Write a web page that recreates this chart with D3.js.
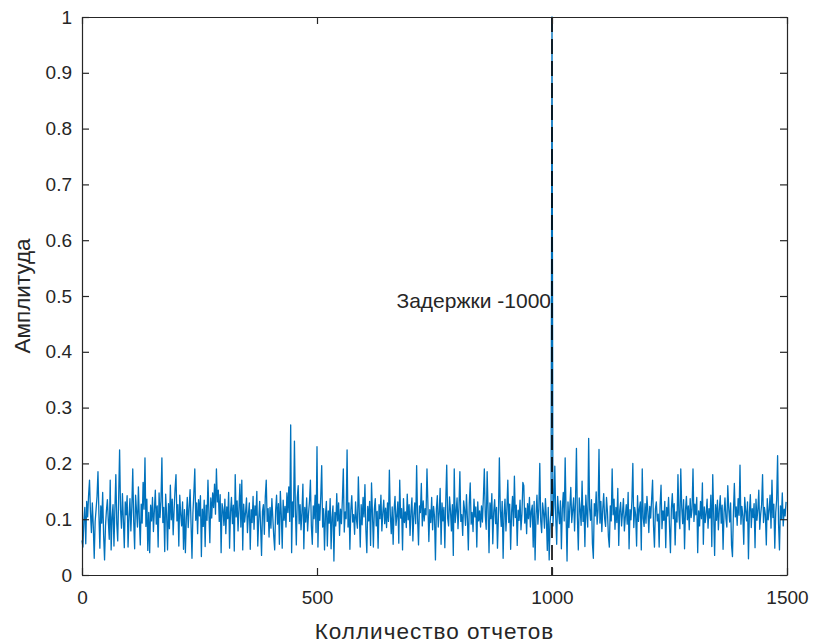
<!DOCTYPE html>
<html>
<head>
<meta charset="utf-8">
<script src="https://cdn.jsdelivr.net/npm/d3@7"></script>
<style>
  html, body { margin: 0; background: #fff; }
  svg { display: block; }
  text { font-family: "Liberation Sans", Arial, Helvetica, sans-serif; fill: #262626; }
</style>
</head>
<body>
<svg id="chart" width="815" height="644"></svg>
<script>
// Axis ticks and labels
const xTicks = [0, 500, 1000, 1500];
const yTicks = [0, 0.1, 0.2, 0.3, 0.4, 0.5, 0.6, 0.7, 0.8, 0.9, 1];
const yTickLabels = ["0", "0.1", "0.2", "0.3", "0.4", "0.5", "0.6", "0.7", "0.8", "0.9", "1"];
const xTitle = "Колличество отчетов";
const yTitle = "Амплитуда";

// Delay marker
const delaySample = 1000;
const delayLabel = "Задержки -1000";
const delayLabelLevel = 0.5;

// Correlation amplitude, one value every 2 samples, in thousandths
const sampleStep = 2;
const amplitudeMilli = [
  62, 50, 98, 121, 56, 132, 104, 143, 170, 112, 76, 129, 88, 30, 96, 118, 141, 185, 109, 48, 124, 93, 148, 71, 27,
  88, 116, 135, 97, 64, 170, 45, 103, 126, 52, 119, 180, 92, 61, 138, 224, 117, 84, 146, 99, 49, 131, 108, 142, 50,
  104, 137, 79, 122, 190, 96, 47, 143, 115, 86, 158, 101, 54, 127, 93, 166, 118, 210, 87, 136, 44, 112, 40, 125, 97,
  139, 78, 116, 152, 91, 124, 50, 147, 103, 132, 210, 94, 121, 42, 145, 109, 45, 128, 83, 161, 99, 136, 72, 118, 154,
  180, 97, 126, 52, 143, 108, 88, 131, 46, 117, 40, 102, 139, 85, 121, 153, 92, 30, 111, 147, 190, 98, 129, 74, 135,
  106, 142, 33, 118, 87, 134, 51, 125, 98, 170, 112, 58, 138, 102, 147, 121, 163, 109, 190, 131, 152, 96, 144, 40, 128,
  117, 89, 136, 74, 122, 101, 148, 48, 113, 139, 92, 125, 43, 180, 104, 133, 79, 119, 163, 86, 170, 45, 127, 95, 112,
  138, 76, 108, 129, 46, 117, 94, 141, 82, 124, 107, 150, 52, 99, 132, 88, 35, 114, 126, 73, 140, 170, 96, 119, 68,
  121, 84, 137, 102, 69, 45, 116, 143, 91, 128, 55, 150, 109, 48, 134, 98, 123, 86, 147, 112, 158, 96, 269, 40, 131,
  104, 240, 118, 54, 139, 160, 92, 126, 81, 113, 163, 47, 121, 95, 138, 79, 110, 132, 170, 88, 55, 124, 101, 143, 76,
  230, 50, 127, 98, 141, 196, 86, 119, 45, 108, 132, 52, 115, 93, 137, 47, 103, 124, 25, 112, 88, 146, 97, 129, 71,
  118, 92, 135, 190, 77, 113, 101, 224, 86, 129, 46, 117, 142, 95, 108, 73, 131, 99, 84, 176, 112, 50, 126, 90, 139,
  104, 162, 81, 40, 123, 97, 132, 53, 165, 109, 50, 118, 137, 88, 114, 48, 126, 101, 143, 79, 111, 134, 92, 120, 85,
  129, 96, 188, 108, 74, 122, 55, 117, 141, 89, 106, 131, 57, 170, 102, 119, 45, 137, 94, 113, 85, 145, 99, 126, 71,
  115, 138, 61, 107, 129, 92, 196, 101, 54, 124, 112, 164, 88, 133, 97, 119, 108, 190, 126, 60, 117, 94, 139, 81, 123,
  105, 27, 118, 142, 86, 111, 155, 55, 129, 97, 121, 49, 134, 197, 102, 88, 140, 115, 79, 126, 35, 190, 94, 113, 138,
  83, 121, 185, 96, 108, 71, 133, 117, 89, 144, 102, 45, 127, 165, 91, 112, 78, 136, 104, 122, 50, 131, 97, 115, 86,
  124, 95, 139, 190, 107, 82, 185, 118, 40, 129, 101, 146, 56, 113, 135, 92, 121, 48, 104, 210, 117, 87, 132, 30, 109,
  136, 79, 118, 170, 94, 127, 46, 112, 141, 88, 177, 103, 125, 53, 116, 98, 134, 81, 109, 166, 160, 93, 120, 74, 128,
  101, 139, 86, 114, 125, 50, 132, 27, 108, 143, 91, 118, 200, 97, 76, 129, 112, 84, 137, 103, 44, 121, 27, 94, 117,
  1000, 88, 126, 195, 102, 55, 141, 113, 92, 133, 47, 119, 148, 97, 210, 108, 25, 131, 85, 122, 157, 94, 116, 138, 79,
  131, 227, 104, 45, 138, 117, 89, 168, 96, 124, 51, 143, 110, 86, 245, 119, 98, 135, 56, 30, 128, 106, 149, 91, 117,
  225, 93, 132, 78, 118, 146, 101, 87, 139, 113, 69, 50, 124, 97, 190, 108, 136, 82, 121, 94, 155, 53, 115, 130, 88,
  112, 137, 79, 104, 126, 91, 148, 47, 117, 99, 133, 200, 85, 121, 108, 52, 142, 96, 119, 131, 45, 190, 102, 87, 128,
  93, 141, 114, 76, 123, 102, 136, 170, 88, 50, 118, 131, 97, 109, 50, 126, 161, 83, 115, 98, 132, 49, 121, 106, 139,
  87, 40, 119, 146, 101, 128, 54, 113, 95, 180, 107, 83, 190, 121, 92, 135, 47, 116, 141, 99, 124, 81, 137, 103, 118,
  190, 96, 127, 108, 139, 40, 115, 88, 132, 101, 165, 55, 122, 94, 111, 136, 84, 119, 102, 143, 51, 180, 109, 35, 126,
  98, 134, 81, 117, 142, 93, 125, 46, 111, 138, 102, 86, 160, 119, 95, 129, 53, 33, 113, 164, 104, 122, 89, 137, 107,
  197, 91, 123, 106, 55, 139, 115, 97, 131, 29, 112, 144, 85, 119, 103, 128, 49, 136, 98, 117, 152, 82, 109, 126, 180,
  94, 121, 108, 54, 137, 99, 116, 143, 84, 170, 103, 127, 48, 112, 135, 214, 92, 45, 124, 101, 147, 88, 118, 106, 131
];

const series = amplitudeMilli.map((v, i) => ({ sample: i * sampleStep, amplitude: v / 1000 }));

const svg = d3.select("#chart");
const plot = { left: 82, right: 787, top: 17, bottom: 575 };

const x = d3.scaleLinear().domain([0, 1500]).range([plot.left, plot.right]);
const y = d3.scaleLinear().domain([0, 1]).range([plot.bottom, plot.top]);

// Signal
svg.append("path")
  .datum(series)
  .attr("fill", "none")
  .attr("stroke", "#0072BD")
  .attr("stroke-width", 1.3)
  .attr("stroke-linejoin", "round")
  .attr("d", d3.line().x(d => x(d.sample)).y(d => y(d.amplitude)));

// Delay marker line
svg.append("line")
  .attr("x1", x(delaySample)).attr("x2", x(delaySample))
  .attr("y1", y(1)).attr("y2", y(0))
  .attr("stroke", "#000")
  .attr("stroke-width", 1.6)
  .attr("stroke-dasharray", "15,7");

svg.append("text")
  .attr("x", x(delaySample) - 1)
  .attr("y", y(delayLabelLevel) + 12)
  .attr("text-anchor", "end")
  .attr("font-size", 21)
  .text(delayLabel);

// Axes: box with inward ticks on all four sides
const tickLen = 7;
const axisStyle = g => {
  g.select(".domain").attr("stroke", "#262626").attr("stroke-width", 1.2);
  g.selectAll(".tick line").attr("stroke", "#262626").attr("stroke-width", 1.2);
  g.selectAll(".tick text").attr("fill", "#262626").attr("font-size", 19)
    .attr("font-family", '"Liberation Sans", Arial, Helvetica, sans-serif');
};

svg.append("g")
  .attr("transform", `translate(0,${plot.bottom})`)
  .call(d3.axisBottom(x).tickValues(xTicks).tickFormat(d3.format("d"))
    .tickSizeInner(-tickLen).tickSizeOuter(0).tickPadding(16))
  .call(axisStyle);

svg.append("g")
  .attr("transform", `translate(0,${plot.top})`)
  .call(d3.axisTop(x).tickValues(xTicks).tickFormat("")
    .tickSizeInner(-tickLen).tickSizeOuter(0))
  .call(axisStyle);

svg.append("g")
  .attr("transform", `translate(${plot.left},0)`)
  .call(d3.axisLeft(y).tickValues(yTicks).tickFormat((d, i) => yTickLabels[i])
    .tickSizeInner(-tickLen).tickSizeOuter(0).tickPadding(10))
  .call(axisStyle);

svg.append("g")
  .attr("transform", `translate(${plot.right},0)`)
  .call(d3.axisRight(y).tickValues(yTicks).tickFormat("")
    .tickSizeInner(-tickLen).tickSizeOuter(0))
  .call(axisStyle);

// Axis titles
svg.append("text")
  .attr("x", (plot.left + plot.right) / 2)
  .attr("y", 639)
  .attr("text-anchor", "middle")
  .attr("font-size", 22.5)
  .attr("letter-spacing", 1)
  .text(xTitle);

svg.append("text")
  .attr("transform", `translate(30,${(plot.top + plot.bottom) / 2}) rotate(-90)`)
  .attr("text-anchor", "middle")
  .attr("font-size", 22.5)
  .text(yTitle);
</script>
</body>
</html>
